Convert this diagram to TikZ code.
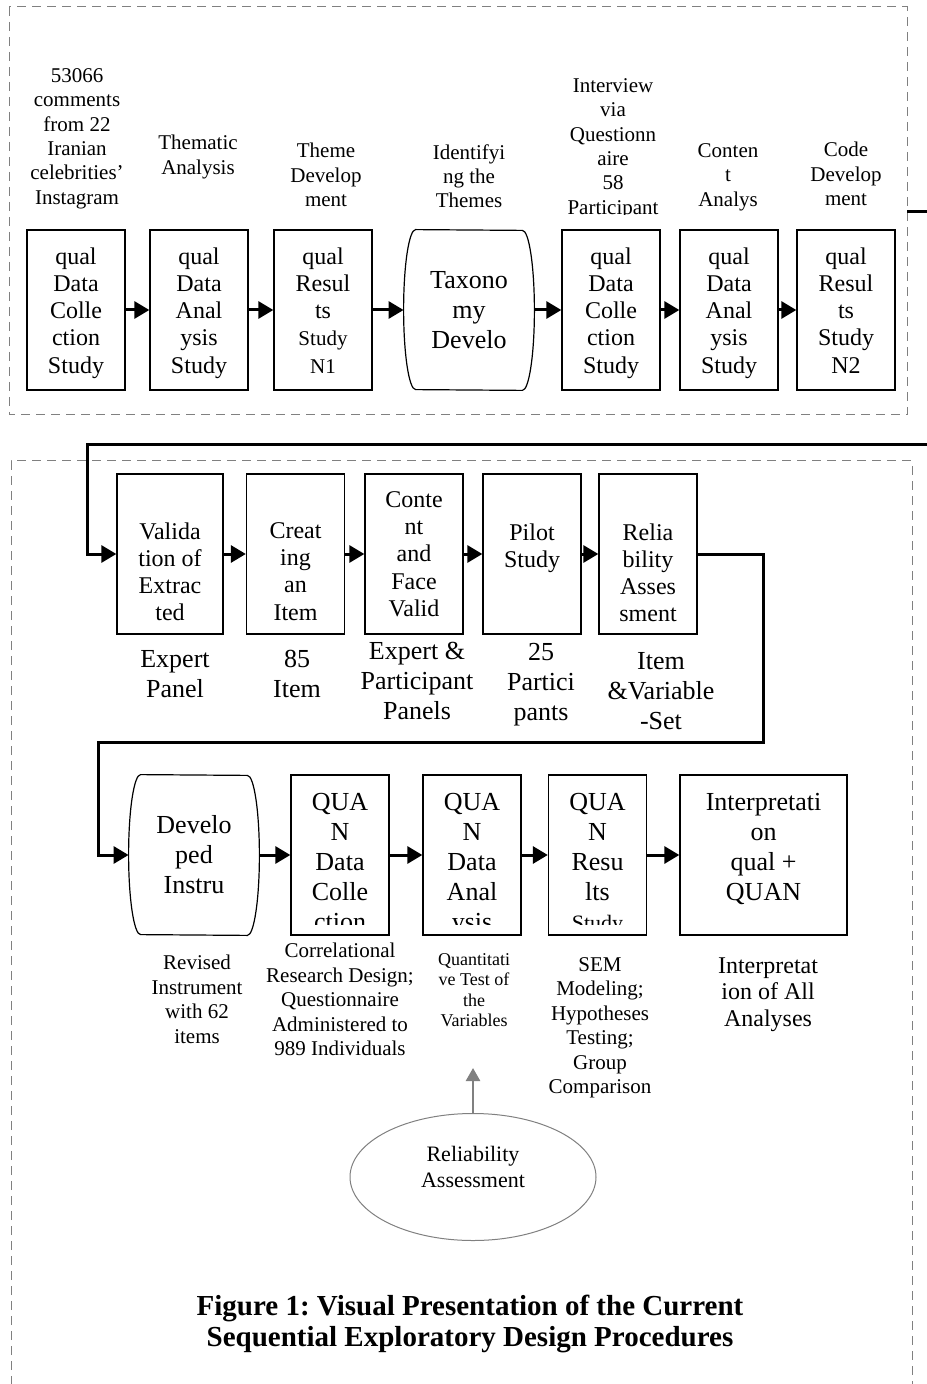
\documentclass[tikz,border=0pt]{standalone}
\usepackage{fontspec}
\setmainfont{Liberation Serif}
\usetikzlibrary{arrows.meta,shapes.geometric}
\frenchspacing

% outline of the rounded (barrel) stages
\newcommand\barrelline[1]{%
  \draw[line width=0.6pt] ([xshift=6pt]#1.north west)
    arc[start angle=90,end angle=270,x radius=6pt,y radius=40pt]
    -- ([xshift=-6pt]#1.south east)
    arc[start angle=-90,end angle=90,x radius=6pt,y radius=40pt] -- cycle;}

\tikzset{
  grp/.style={draw=gray, line width=0.5pt, dash pattern=on 4.5pt off 3pt},
  flow/.style={line width=1.5pt, -{Triangle[length=7.5pt,width=8.5pt]}},
  grayflow/.style={draw=gray, line width=1.3pt, -{Triangle[length=6.5pt,width=7pt]}},
  stagetext/.style={draw=none, minimum width=0pt, minimum height=0pt, align=center,
    inner sep=0pt, font=\fontsize{12}{13.6}\selectfont},
  stage/.style 2 args={draw, line width=0.65pt, minimum width=49pt, minimum height=80pt,
    inner sep=0pt, path picture={
      \clip ([yshift=5.5pt]path picture bounding box.south west)
        rectangle (path picture bounding box.north east);
      \node[stagetext, anchor=north] at ([yshift=-#1]path picture bounding box.north) {#2};}},
  barrel/.style={minimum width=65pt, minimum height=80pt, inner sep=0pt, align=center,
    font=\fontsize{13}{15}\selectfont},
  toplbl/.style={align=center, inner sep=0pt, anchor=north, font=\fontsize{10.5}{12.2}\selectfont},
  midlbl/.style={align=center, inner sep=0pt, anchor=north, font=\fontsize{13}{15}\selectfont},
  lowlbl/.style={align=center, inner sep=0pt, anchor=north, font=\fontsize{10.5}{12.25}\selectfont}
}

\begin{document}
\begin{tikzpicture}[x=0.5pt, y=-0.5pt]
\useasboundingbox (0,0) rectangle (926,1384);

% groups
\draw[grp] (9,7) rectangle (907,415);
\draw[grp] (11,1400) -- (11,461) -- (912,461) -- (912,1400);

% qual strand
\node[stage={8.5pt}{qual\\Data\\Colle\\ction\\Study}] (dc1) at (76,310) {};
\node[stage={8.5pt}{qual\\Data\\Anal\\ysis\\Study}] (da1) at (199,310) {};
\node[stage={8.5pt}{qual\\Resul\\ts\\{\fontsize{10.5}{12}\selectfont Study}\\{\fontsize{10.5}{12}\selectfont N1}}] (res1) at (323,310) {};
\node[barrel] (tax) at (469,310) {Taxono\\my\\Develo};
\barrelline{tax}
\node[stage={8.5pt}{qual\\Data\\Colle\\ction\\Study}] (dc2) at (611,310) {};
\node[stage={8.5pt}{qual\\Data\\Anal\\ysis\\Study}] (da2) at (729,310) {};
\node[stage={8.5pt}{qual\\Resul\\ts\\Study\\N2}] (res2) at (846,310) {};
\coordinate (qualout) at (907,212);

\node[toplbl] (dc1note) at (77,68) {53066\\comments\\from 22\\Iranian\\celebrities’\\Instagram};
\node[toplbl] (da1note) at (198,135) {Thematic\\Analysis};
\node[toplbl] (res1note) at (326,143) {Theme\\Develop\\ment};
\node[toplbl] (taxnote) at (469,144) {Identifyi\\ng the\\Themes};
\begin{scope}
\clip (540,0) rectangle (680,215);
\node[toplbl] (dc2note) at (613,78) {Interview\\via\\Questionn\\aire\\58\\Participant};
\end{scope}
\node[toplbl] (da2note) at (728,143) {Conten\\t\\Analys};
\node[toplbl] (res2note) at (846,142) {Code\\Develop\\ment};

% instrument development
\node[stage={24pt}{Valida\\tion of\\Extrac\\ted}, minimum width=53pt] (val) at (170,554) {};
\node[stage={24pt}{Creat\\ing\\an\\Item}] (item) at (295.5,554) {};
\node[stage={8.5pt}{Conte\\nt\\and\\Face\\Valid}] (cfv) at (414,554) {};
\node[stage={24.5pt}{Pilot\\Study}] (pilot) at (532,554) {};
\node[stage={24.5pt}{Relia\\bility\\Asses\\sment}] (rel) at (648,554) {};

\node[midlbl] (valnote) at (175,650) {Expert\\Panel};
\node[midlbl] (itemnote) at (297,650) {85\\Item};
\node[midlbl] (cfvnote) at (417,642) {Expert \&\\Participant\\Panels};
\node[midlbl] (pilotnote) at (541,643) {25\\Partici\\pants};
\node[midlbl] (relnote) at (661,652) {Item\\\&Variable\\-Set};

% QUAN strand
\node[barrel] (dev) at (194,855) {Develo\\ped\\Instru};
\barrelline{dev}
\begin{scope}[stagetext/.append style={font=\fontsize{13}{15}\selectfont}]
\node[stage={9pt}{QUA\\N\\Data\\Colle\\ction}] (qdc) at (340,855) {};
\node[stage={9pt}{QUA\\N\\Data\\Anal\\ysis}] (qda) at (472,855) {};
\node[stage={9pt}{QUA\\N\\Resu\\lts\\{\fontsize{11}{12}\selectfont Study}}] (qres) at (597.5,855) {};
\node[stage={9pt}{Interpretati\\on\\qual +\\QUAN}, minimum width=83.5pt] (interp) at (763.5,855) {};
\end{scope}

\node[lowlbl] (devnote) at (197,955) {Revised\\Instrument\\with 62\\items};
\node[lowlbl] (qdcnote) at (340,943) {Correlational\\Research Design;\\Questionnaire\\Administered to\\989 Individuals};
\node[lowlbl, font=\fontsize{9}{10.25}\selectfont] (qdanote) at (474,953) {Quantitati\\ve Test of\\the\\Variables};
\node[lowlbl] (qresnote) at (600,957) {SEM\\Modeling;\\Hypotheses\\Testing;\\Group\\Comparison};
\node[lowlbl, font=\fontsize{12}{13.25}\selectfont] (interpnote) at (768,957) {Interpretat\\ion of All\\Analyses};

\node[ellipse, draw=gray, line width=0.5pt, minimum width=123pt, minimum height=63.5pt, inner sep=0pt,
  label={[yshift=5pt, align=center, inner sep=0pt, font=\fontsize{11}{13}\selectfont]center:{Reliability\\Assessment}}]
  (relass) at (473,1177) {};
\coordinate (qdatip) at (473,1068);

\node[align=center, inner sep=0pt, anchor=north, font=\bfseries\fontsize{14.5}{15.5}\selectfont] (title)
  at (470,1295) {Figure 1: Visual Presentation of the Current\\Sequential Exploratory Design Procedures};

% connectors
\draw[flow] (dc1) -- (da1);
\draw[flow] (da1) -- (res1);
\draw[flow] (res1) -- (tax);
\draw[flow] (tax) -- (dc2);
\draw[flow] (dc2) -- (da2);
\draw[flow] (da2) -- (res2);
\draw[flow] (qualout) -- ++(33,0) |- (87,445) |- (val.west);
\draw[flow] (val) -- (item);
\draw[flow] (item) -- (cfv);
\draw[flow] (cfv) -- (pilot);
\draw[flow] (pilot) -- (rel);
\draw[flow] (rel.east) -| (763,742) -| (98,855) -- (dev.west);
\draw[flow] (dev) -- (qdc);
\draw[flow] (qdc) -- (qda);
\draw[flow] (qda) -- (qres);
\draw[flow] (qres) -- (interp);
\draw[grayflow] (relass) -- (qdatip);
\end{tikzpicture}
\end{document}
